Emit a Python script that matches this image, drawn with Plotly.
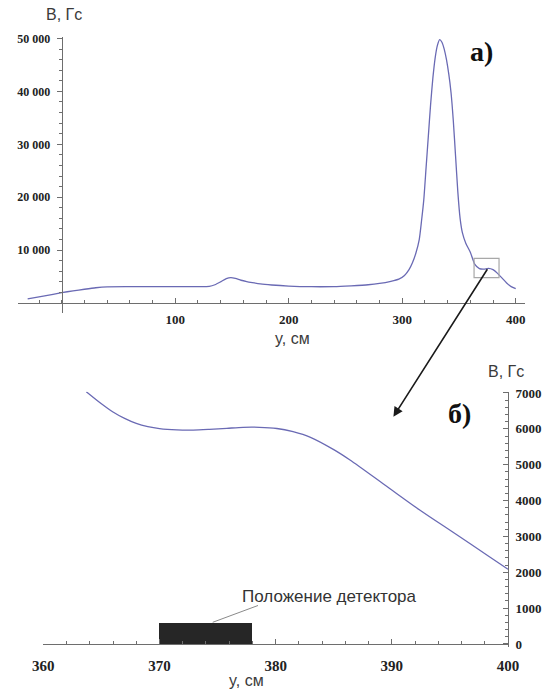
import plotly.graph_objects as go

# ---------------- data ----------------
# (a) full profile: position y (cm) and field B (Gs)
top_y_cm = [-30, -15, 0, 10, 20, 30, 40, 60, 80, 100, 120, 130, 135, 140, 145, 149, 153, 158,
            163, 168, 175, 185, 200, 220, 240, 255, 270, 280, 290, 297, 302, 306, 309, 312,
            315, 317, 319, 321, 323, 325, 327, 329, 331, 333, 335, 337, 339, 341, 343, 345,
            347, 349, 351, 353, 356, 360, 364, 368, 372, 376, 380, 384, 388, 392, 396, 400]
top_B = [760, 1350, 1950, 2300, 2600, 2880, 3050, 3080, 3080, 3080, 3100, 3150, 3450, 4000,
         4600, 4800, 4650, 4300, 4050, 3850, 3600, 3400, 3200, 3080, 3100, 3250, 3450, 3700,
         4100, 4500, 5200, 6300, 7600, 9400, 12000, 15500, 19500, 25500, 31500, 37500,
         42500, 46300, 48700, 49800, 49300, 48000, 46000, 43300, 39800, 34500, 27800,
         21000, 16000, 13300, 11300, 9600, 7300, 6500, 6400, 6550, 6300, 5600, 4700, 3800,
         3100, 2700]

# (b) zoomed region near the detector
zoom_y_cm = [363.7, 365.0, 366.0, 367.0, 368.0, 369.0, 370.0, 371.5, 372.9, 374.3, 375.8, 377.2,
             378.6, 380.1, 381.5, 383.0, 385.0, 386.4, 389.4, 392.4, 395.4, 398.4, 400.0]
zoom_B = [7036, 6700, 6470, 6290, 6150, 6060, 6005, 5970, 5965, 5985, 6015, 6043, 6043, 6010,
          5920, 5764, 5420, 5131, 4434, 3737, 3087, 2434, 2083]

# detector position (cm) and drawn height (Gs)
det_start = 370
det_end = 378
det_height = 605

top_xticks = [100, 200, 300, 400]
top_yticks = [10000, 20000, 30000, 40000, 50000]
top_yticktext = ["10 000", "20 000", "30 000", "40 000", "50 000"]
zoom_xticks = [360, 370, 380, 390, 400]
zoom_yticks = [0, 1000, 2000, 3000, 4000, 5000, 6000, 7000]
zoom_yticktext = ["0", "1000", "2000", "3000", "4000", "5000", "6000", "7000"]

# ---------------- figure ----------------
W, H = 548, 695
def px(x):
    return x / W
def py(y):
    return 1 - y / H

LINE_COLOR = "#6a6ab4"
AXIS_COLOR = "#6e6e6e"
TICKFONT = dict(family="Liberation Serif", size=13, color="#222222", weight="bold")
LABELFONT = dict(family="Liberation Sans", size=16, color="#3a3a3a")

fig = go.Figure()
fig.add_trace(go.Scatter(x=top_y_cm, y=top_B, mode="lines", xaxis="x", yaxis="y",
                         line=dict(color=LINE_COLOR, width=1.3, shape="spline", smoothing=0.6),
                         hoverinfo="skip", showlegend=False))
fig.add_trace(go.Bar(x=[(det_start + det_end) / 2], y=[det_height], width=[det_end - det_start],
                     base=0, xaxis="x2", yaxis="y2",
                     marker=dict(color="#262626", line=dict(width=0)),
                     hoverinfo="skip", showlegend=False))
fig.add_trace(go.Scatter(x=zoom_y_cm, y=zoom_B, mode="lines", xaxis="x2", yaxis="y2",
                         line=dict(color=LINE_COLOR, width=1.3, shape="spline", smoothing=0.8),
                         hoverinfo="skip", showlegend=False))

common = dict(showgrid=False, zeroline=False, showline=True, linecolor=AXIS_COLOR, linewidth=1,
              tickcolor=AXIS_COLOR, tickwidth=1, tickfont=TICKFONT, fixedrange=True,
              automargin=False)

fig.update_layout(
    width=W, height=H, autosize=False,
    margin=dict(l=0, r=0, t=0, b=0, pad=0),
    paper_bgcolor="white", plot_bgcolor="white",
    bargap=0,
    xaxis=dict(domain=[px(18), px(524.8)], range=[-38.5, 408], anchor="free", position=py(303),
               ticks="inside", ticklen=5, tickmode="array", tickvals=top_xticks,
               ticklabelstandoff=4,
               minor=dict(ticks="inside", ticklen=3, tickcolor=AXIS_COLOR,
                          tickmode="array", tickvals=list(range(-20, 401, 20))),
               **common),
    yaxis=dict(domain=[py(313), py(36.7)], range=[-1890, 50340], anchor="free", position=px(61.7),
               ticks="outside", ticklen=5, tickmode="array", tickvals=top_yticks,
               ticktext=top_yticktext, ticklabelstandoff=4,
               minor=dict(ticks="outside", ticklen=3, tickcolor=AXIS_COLOR,
                          tickmode="array", tickvals=list(range(0, 50001, 2000))),
               **{**common, "tickfont": dict(TICKFONT, size=12)}),
    xaxis2=dict(domain=[px(43.3), px(508)], range=[360, 400], anchor="free", position=py(644),
                ticks="inside", ticklen=5, tickmode="array", tickvals=zoom_xticks,
                ticklabelstandoff=8,
                minor=dict(ticks="inside", ticklen=3, tickcolor=AXIS_COLOR,
                           tickmode="array", tickvals=list(range(360, 401, 2))),
                **{**common, "tickfont": dict(TICKFONT, size=15)}),
    yaxis2=dict(domain=[py(647), py(391.7)], range=[-84, 7036], anchor="x2", side="right",
                ticks="inside", ticklen=5, tickmode="array", tickvals=zoom_yticks,
                ticktext=zoom_yticktext, ticklabelstandoff=4,
                minor=dict(ticks="inside", ticklen=3, tickcolor=AXIS_COLOR,
                           tickmode="array", tickvals=list(range(0, 7001, 200))),
                **common),
)

annotations = [
    dict(text="В, Гс", x=px(63.5), y=py(15), font=LABELFONT),
    dict(text="y, см", x=px(292), y=py(338), font=LABELFONT),
    dict(text="а)", x=px(481), y=py(51.5),
         font=dict(family="Liberation Serif", size=28, color="#111111", weight="bold")),
    dict(text="б)", x=px(459), y=py(413),
         font=dict(family="Liberation Serif", size=28, color="#111111", weight="bold")),
    dict(text="В, Гс", x=px(506), y=py(371.7), font=LABELFONT),
    dict(text="y, см", x=px(246.5), y=py(680), font=LABELFONT),
    dict(text="Положение детектора", x=px(240), y=py(596.5), xanchor="left",
         font=dict(family="Liberation Sans", size=17, color="#333333")),
]
for a in annotations:
    a.setdefault("xanchor", "center")
    fig.add_annotation(xref="paper", yref="paper", yanchor="middle", showarrow=False, **a)

# arrow from zoom box to panel (b)
fig.add_annotation(xref="paper", yref="paper", x=px(393.4), y=py(416.7), text="",
                   showarrow=True, ax=94.9, ay=-149, axref="pixel", ayref="pixel",
                   arrowhead=2, arrowsize=1.2, arrowwidth=1.6, arrowcolor="#1a1a1a")

# zoom box on panel (a)
fig.add_shape(type="rect", xref="x", yref="y", x0=363.3, x1=385.3, y0=4780, y1=8450,
              line=dict(color="#a8a8a8", width=1.2), fillcolor="rgba(0,0,0,0)")
# leader line for detector label
fig.add_shape(type="line", xref="paper", yref="paper", x0=px(212.7), y0=py(622.3),
              x1=px(258), y1=py(605.5), line=dict(color="#8a8a8a", width=1))

fig.write_html("out.html")
